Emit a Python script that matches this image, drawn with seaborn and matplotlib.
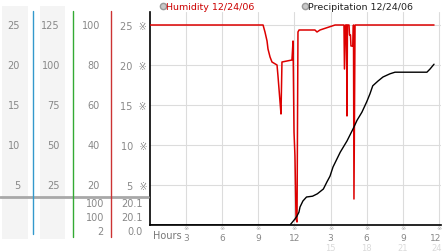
import matplotlib
matplotlib.use("Agg")
import matplotlib.pyplot as plt
import matplotlib.transforms as mtransforms
from matplotlib.lines import Line2D
from matplotlib.patches import Rectangle
import seaborn as sns
import pandas as pd

# ---------------- data ----------------
hum_hours = [0, 9.39, 9.55, 9.72, 9.80, 9.97, 10.13, 10.55, 10.63, 10.80, 10.88, 10.96,
             11.79, 11.88, 11.96, 12.04, 12.13, 12.21, 12.29, 12.38, 13.70, 13.87, 14.12,
             15.12, 15.37, 16.11, 16.15, 16.24, 16.32, 16.36, 16.40, 16.53, 16.57, 16.65,
             16.69, 16.86, 16.90, 16.94, 17.03, 23.59]
hum_pct = [100, 100, 96.5, 92, 88, 84, 81.5, 80, 74.5, 61.5, 55.5, 81.5,
           82.5, 92, 46.5, 34.5, 3, 1.5, 96.5, 97.5, 97.5, 96.5, 97.5,
           99.5, 100, 100, 78, 100, 100, 54.5, 100, 100, 95, 95,
           89.5, 89.5, 100, 13, 100, 100]

pre_hours = [0, 11.63, 12.04, 12.20, 12.37, 12.46, 12.70, 13.00, 13.50, 13.90, 14.40,
             14.70, 14.95, 15.20, 15.80, 16.36, 16.86, 17.20, 17.60, 18.00, 18.27,
             18.50, 18.94, 19.35, 19.93, 20.35, 23.00, 23.26, 23.59]
pre_vals = [0, 0, 0.75, 1.1, 1.6, 2.25, 3.0, 3.5, 3.6, 3.9, 4.5,
            5.4, 6.1, 7.25, 9.1, 10.5, 12.0, 13.1, 14.1, 15.4, 16.4,
            17.4, 18.0, 18.5, 18.9, 19.1, 19.1, 19.5, 20.1]

col1_labels = ["25", "20", "15", "10", "5"]
col2_labels = ["125", "100", "75", "50", "25"]
col3_labels = ["100", "80", "60", "40", "20"]
axis_ticks = [25, 20, 15, 10, 5]
col3_summary = ["100", "100", "2"]
col4_summary = ["20.1", "20.1", "0.0"]
x_ticks = [3, 6, 9, 12, 15, 18, 21, 24]
x_labels = ["3", "6", "9", "12", "3", "6", "9", "12"]
x_labels2 = ["", "", "", "", "15", "18", "21", "24"]
legend_labels = ["Humidity 12/24/06", "Precipitation 12/24/06"]

# ---------------- figure ----------------
sns.set_theme(style="white")
plt.rcParams['font.family'] = ['DejaVu Sans']

W, H = 442, 253
fig = plt.figure(figsize=(W / 100, H / 100), dpi=100)
fig.patch.set_facecolor("white")


def fx(px):
    return px / W


def fy(py):
    return 1 - py / H


ax = fig.add_axes([fx(150), fy(226), fx(441) - fx(150), fy(13) - fy(226)])
ax.set_facecolor("white")

hum_df = pd.DataFrame({"hour": hum_hours, "val": [p / 4 for p in hum_pct]})
pre_df = pd.DataFrame({"hour": pre_hours, "val": pre_vals})

sns.lineplot(data=hum_df, x="hour", y="val", ax=ax, color="#dd0000", lw=1.1,
             estimator=None, sort=False, zorder=3)
sns.lineplot(data=pre_df, x="hour", y="val", ax=ax, color="black", lw=1.0,
             estimator=None, sort=False, zorder=4)

ax.set_xlim(0, 291 / 12.04)
ax.set_ylim(0, 26.625)
ax.set_xlabel("")
ax.set_ylabel("")

for s in ["top", "right"]:
    ax.spines[s].set_visible(False)
ax.spines["left"].set_color("black")
ax.spines["bottom"].set_color("black")
ax.spines["left"].set_linewidth(1.2)
ax.spines["bottom"].set_linewidth(1.2)

ax.set_xticks(x_ticks)
ax.set_xticklabels([""] * len(x_ticks))
ax.set_yticks(axis_ticks)
ax.set_yticklabels([f"{v}  ※" for v in axis_ticks], fontsize=7, color="#888888")
ax.tick_params(axis="both", length=0, pad=2)
ax.grid(True, color="#dcdcdc", lw=0.8, zorder=0)

# x tick labels: reference mark, hour, faint 24h hour
trans = mtransforms.blended_transform_factory(ax.transData, fig.transFigure)
for i, (t, l, l2) in enumerate(zip(x_ticks, x_labels, x_labels2)):
    last = i == len(x_ticks) - 1
    ha = "right" if last else "center"
    xoff = t + (0.22 if last else 0)
    ax.text(xoff, fy(229), "※", transform=trans, ha=ha, va="center",
            fontsize=4.5, color="#aaaaaa")
    ax.text(xoff, fy(238.5), l, transform=trans, ha=ha, va="center",
            fontsize=6.5, color="#888888")
    if l2:
        ax.text(xoff, fy(249), l2, transform=trans, ha=ha, va="center",
                fontsize=6, color="#dadada")

fig.text(fx(153), fy(236), "Hours", fontsize=7, color="#777777", ha="left", va="center")

# ---------------- legend ----------------
fig.add_artist(Line2D([fx(163)], [fy(7)], marker="o", markersize=4.5,
                      markerfacecolor="#c8c8c8", markeredgecolor="#999999", lw=0))
fig.text(fx(166), fy(7), legend_labels[0], fontsize=6.8, color="#cc0000",
         ha="left", va="center")
fig.add_artist(Line2D([fx(305)], [fy(7)], marker="o", markersize=4.5,
                      markerfacecolor="#c8c8c8", markeredgecolor="#999999", lw=0))
fig.text(fx(308), fy(7), legend_labels[1], fontsize=6.8, color="#222222",
         ha="left", va="center")

# ---------------- left scale panels ----------------
fig.add_artist(Rectangle((fx(2), fy(240)), fx(26), (240 - 7) / H,
                         color="#f4f4f4", lw=0, zorder=0))
fig.add_artist(Rectangle((fx(40), fy(240)), fx(25), (240 - 7) / H,
                         color="#f4f4f4", lw=0, zorder=0))

ys = [26, 66, 106, 146, 186]
for y, a, b, c in zip(ys, col1_labels, col2_labels, col3_labels):
    fig.text(fx(20), fy(y), a, fontsize=7, color="#888888", ha="right", va="center")
    fig.text(fx(60), fy(y), b, fontsize=7, color="#888888", ha="right", va="center")
    fig.text(fx(100), fy(y), c, fontsize=7, color="#888888", ha="right", va="center")

for y, a, b in zip([204, 218, 232], col3_summary, col4_summary):
    fig.text(fx(104), fy(y), a, fontsize=7, color="#888888", ha="right", va="center")
    fig.text(fx(143), fy(y), b, fontsize=7, color="#888888", ha="right", va="center")

fig.add_artist(Line2D([0, fx(148)], [fy(197.5), fy(197.5)], color="#a8a8a8", lw=2))
fig.add_artist(Line2D([fx(33), fx(33)], [fy(12), fy(235)], color="#3399cc", lw=1))
fig.add_artist(Line2D([fx(72.5), fx(72.5)], [fy(12), fy(238)], color="#33aa33", lw=1))
fig.add_artist(Line2D([fx(111), fx(111)], [fy(12), fy(238)], color="#cc3333", lw=1))

fig.savefig("out.png", dpi=100)
